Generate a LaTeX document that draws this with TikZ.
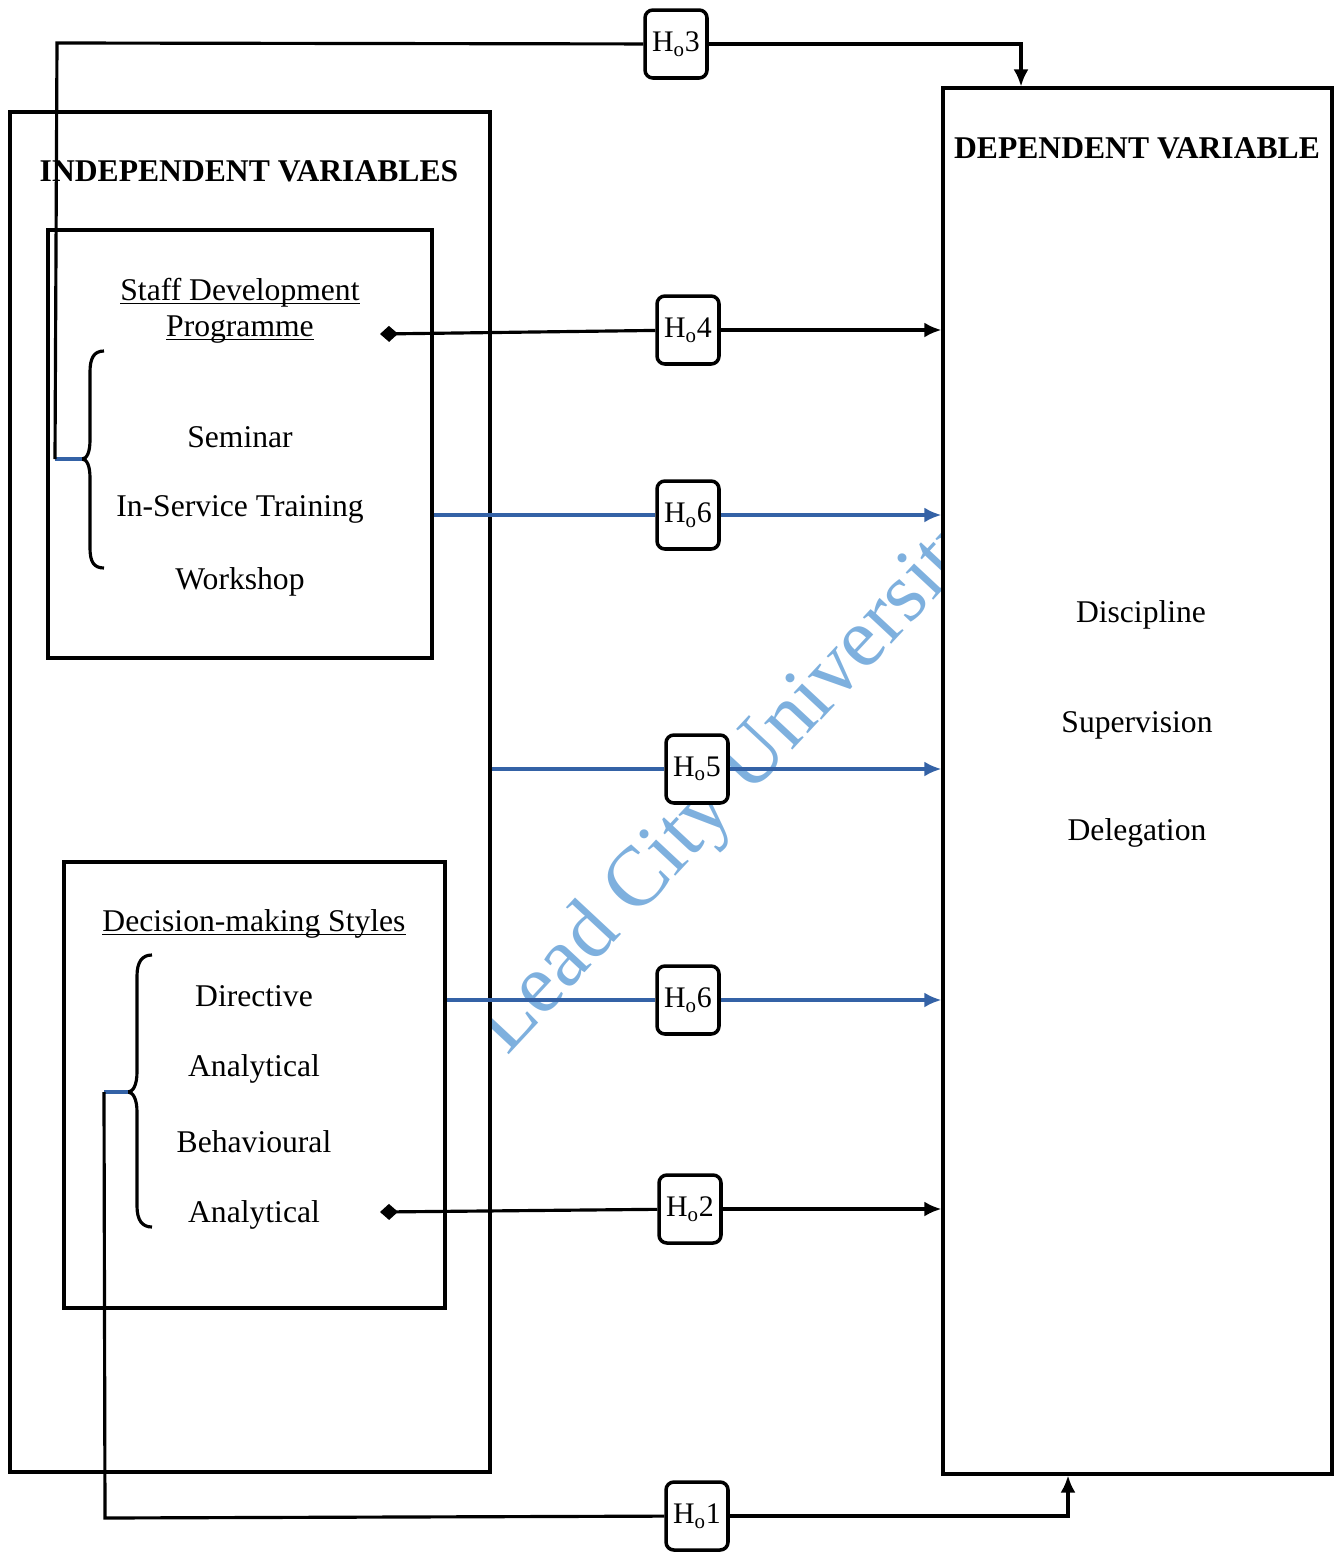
\documentclass[tikz,border=0pt]{standalone}
\usepackage{fontspec}
\setmainfont{Liberation Serif}
\usetikzlibrary{arrows.meta,positioning}
\definecolor{linkblue}{RGB}{52,98,166}
\definecolor{markblue}{RGB}{126,176,222}
\newcommand{\ultext}[1]{\underline{\vphantom{A}\smash{#1}}}
\tikzset{
  frame/.style={draw, line width=1.9pt, inner sep=0pt},
  hyp/.style={draw, line width=2pt, rounded corners=4.5pt, fill=white,
    minimum width=1.24cm, minimum height=1.36cm, inner sep=1pt,
    font=\fontsize{17}{20}\selectfont},
  tipd/.style={{Diamond[length=0.36cm,width=0.32cm]}-}
}
\begin{document}
\begin{tikzpicture}[x=0.02cm, y=-0.02cm, >={Latex[length=0.34cm,width=0.3cm]},
  line width=1.8pt, font=\fontsize{18}{20.5}\selectfont]
  \useasboundingbox (0,0) rectangle (1336,1552);

  % Watermark
  \begin{scope}
    \clip (490,0) rectangle (943,1552);
    \node[markblue, rotate=47, anchor=base west, inner sep=0pt,
      font=\fontsize{48}{48}\selectfont] (mark) at (506,1058) {Lead City University};
  \end{scope}

  % Frames
  \node[frame, minimum width=9.6cm, minimum height=27.2cm] (indep) at (250,792) {};
  \node[frame, minimum width=7.78cm, minimum height=27.72cm] (dep) at (1137.5,781) {};
  \node[frame, minimum width=7.68cm, minimum height=8.56cm] (sdp) at (240,444) {};
  \node[frame, minimum width=7.62cm, minimum height=8.92cm] (dms) at (254.5,1085) {};

  % Titles
  \node (indeptitle) at (249,171) {\bfseries INDEPENDENT VARIABLES};
  \node (deptitle) at (1137,148) {\bfseries DEPENDENT VARIABLE};

  % Staff development
  \node[align=center] (sdptitle) at (240,310) {\ultext{Staff Development}\\\ultext{Programme}};
  \node (seminar) at (240,437) {Seminar};
  \node (inservice) at (240,509) {In-Service Training};
  \node (workshop) at (240,582) {Workshop};

  % Decision-making styles
  \node (dmstitle) at (254,923) {\ultext{Decision-making Styles}};
  \node (directive) at (254,996) {Directive};
  \node (analytical) at (254,1069) {Analytical};
  \node (behavioural) at (254,1142) {Behavioural};
  \node (analyticalb) at (254,1215) {Analytical};

  % Dependent variable
  \node (discipline) at (1141,615) {Discipline};
  \node (supervision) at (1137,725) {Supervision};
  \node (delegation) at (1137,833) {Delegation};

  % Braces
  \draw (104,351) .. controls (94,351) and (90,358) .. (90,372) -- (90,440)
    .. controls (90,452) and (87,459) .. (82,459)
    .. controls (87,459) and (90,466) .. (90,478) -- (90,548)
    .. controls (90,562) and (94,568) .. (104,568);
  \draw (152,955) .. controls (142,955) and (137,962) .. (137,976) -- (137,1072)
    .. controls (137,1085) and (133,1092) .. (128,1092)
    .. controls (133,1092) and (137,1099) .. (137,1112) -- (137,1206)
    .. controls (137,1220) and (142,1227) .. (152,1227);
  \coordinate (tip1) at (82,459);
  \coordinate (tip2) at (128,1092);

  % Hypotheses
  \node[hyp] (h3) at (676,44) {H\textsubscript{o}3};
  \node[hyp] (h4) at (688,330) {H\textsubscript{o}4};
  \node[hyp] (h6a) at (688,515) {H\textsubscript{o}6};
  \node[hyp] (h5) at (697,769) {H\textsubscript{o}5};
  \node[hyp] (h6b) at (688,1000) {H\textsubscript{o}6};
  \node[hyp] (h2) at (690,1209) {H\textsubscript{o}2};
  \node[hyp] (h1) at (697,1516) {H\textsubscript{o}1};

  % Ho3
  \coordinate (s3) at (55,459);
  \coordinate (c3) at (57,43);
  \coordinate (e3) at (1021,44);
  \draw[linkblue] (tip1) -- (s3);
  \draw (s3) -- (c3) -- (h3);
  \draw[->] (h3) -- (e3) -- (e3 |- dep.north);

  % Ho4 and Ho2
  \coordinate (s4) at (380,334);
  \draw[tipd] (s4) -- (h4);
  \draw[->] (h4) -- (h4 -| dep.west);
  \coordinate (s2) at (380,1212);
  \draw[tipd] (s2) -- (h2);
  \draw[->] (h2) -- (h2 -| dep.west);

  % Ho6, Ho5, Ho6
  \draw[linkblue] (h6a -| sdp.east) -- (h6a);
  \draw[linkblue, ->] (h6a) -- (h6a -| dep.west);
  \draw[linkblue] (h5 -| indep.east) -- (h5);
  \draw[linkblue, ->] (h5) -- (h5 -| dep.west);
  \draw[linkblue] (h6b -| dms.east) -- (h6b);
  \draw[linkblue, ->] (h6b) -- (h6b -| dep.west);

  % Ho1
  \coordinate (s1) at (104,1092);
  \coordinate (c1) at (105,1518);
  \coordinate (e1) at (1068,1516);
  \draw[linkblue] (tip2) -- (s1);
  \draw (s1) -- (c1) -- (h1);
  \draw[->] (h1) -- (e1) -- (e1 |- dep.south);
\end{tikzpicture}
\end{document}
